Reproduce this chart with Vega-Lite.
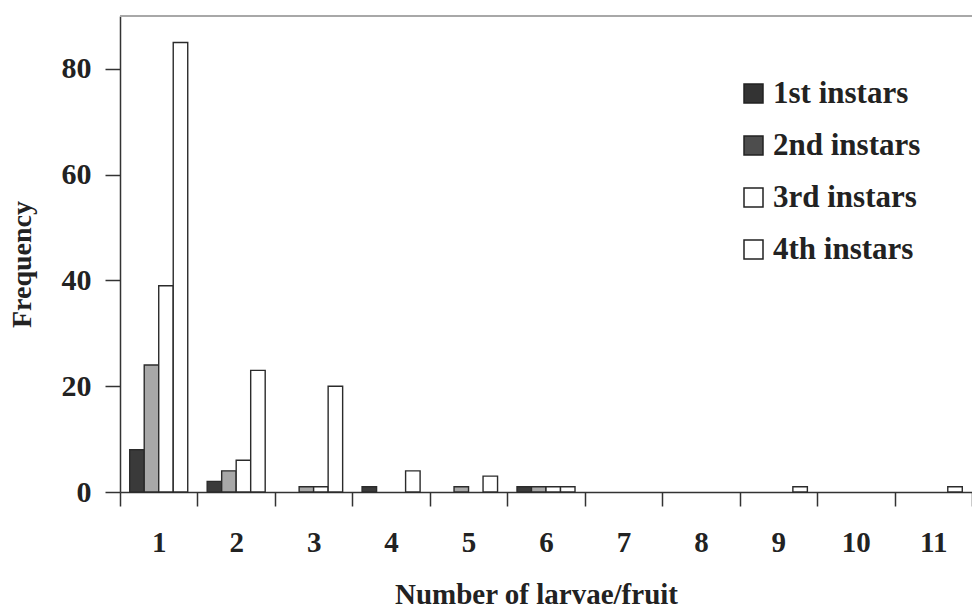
{
  "$schema": "https://vega.github.io/schema/vega-lite/v6.json",
  "width": 852,
  "height": 476,
  "autosize": {"type": "none"},
  "padding": {"left": 120, "top": 16, "right": 0, "bottom": 117},
  "background": "white",
  "config": {
    "view": {"stroke": null},
    "font": "Liberation Serif",
    "axis": {"grid": false, "labelFont": "Liberation Serif", "titleFont": "Liberation Serif"},
    "legend": {"labelFont": "Liberation Serif", "symbolSize": 361, "symbolStrokeWidth": 1.5, "symbolStrokeColor": "#222"}
  },
  "data": {
    "values": [
      {"larvae": 1, "instar": "1st instars", "frequency": 8},
      {"larvae": 1, "instar": "2nd instars", "frequency": 24},
      {"larvae": 1, "instar": "3rd instars", "frequency": 39},
      {"larvae": 1, "instar": "4th instars", "frequency": 85},
      {"larvae": 2, "instar": "1st instars", "frequency": 2},
      {"larvae": 2, "instar": "2nd instars", "frequency": 4},
      {"larvae": 2, "instar": "3rd instars", "frequency": 6},
      {"larvae": 2, "instar": "4th instars", "frequency": 23},
      {"larvae": 3, "instar": "1st instars", "frequency": 0},
      {"larvae": 3, "instar": "2nd instars", "frequency": 1},
      {"larvae": 3, "instar": "3rd instars", "frequency": 1},
      {"larvae": 3, "instar": "4th instars", "frequency": 20},
      {"larvae": 4, "instar": "1st instars", "frequency": 1},
      {"larvae": 4, "instar": "2nd instars", "frequency": 0},
      {"larvae": 4, "instar": "3rd instars", "frequency": 0},
      {"larvae": 4, "instar": "4th instars", "frequency": 4},
      {"larvae": 5, "instar": "1st instars", "frequency": 0},
      {"larvae": 5, "instar": "2nd instars", "frequency": 1},
      {"larvae": 5, "instar": "3rd instars", "frequency": 0},
      {"larvae": 5, "instar": "4th instars", "frequency": 3},
      {"larvae": 6, "instar": "1st instars", "frequency": 1},
      {"larvae": 6, "instar": "2nd instars", "frequency": 1},
      {"larvae": 6, "instar": "3rd instars", "frequency": 1},
      {"larvae": 6, "instar": "4th instars", "frequency": 1},
      {"larvae": 7, "instar": "1st instars", "frequency": 0},
      {"larvae": 7, "instar": "2nd instars", "frequency": 0},
      {"larvae": 7, "instar": "3rd instars", "frequency": 0},
      {"larvae": 7, "instar": "4th instars", "frequency": 0},
      {"larvae": 8, "instar": "1st instars", "frequency": 0},
      {"larvae": 8, "instar": "2nd instars", "frequency": 0},
      {"larvae": 8, "instar": "3rd instars", "frequency": 0},
      {"larvae": 8, "instar": "4th instars", "frequency": 0},
      {"larvae": 9, "instar": "1st instars", "frequency": 0},
      {"larvae": 9, "instar": "2nd instars", "frequency": 0},
      {"larvae": 9, "instar": "3rd instars", "frequency": 0},
      {"larvae": 9, "instar": "4th instars", "frequency": 1},
      {"larvae": 10, "instar": "1st instars", "frequency": 0},
      {"larvae": 10, "instar": "2nd instars", "frequency": 0},
      {"larvae": 10, "instar": "3rd instars", "frequency": 0},
      {"larvae": 10, "instar": "4th instars", "frequency": 0},
      {"larvae": 11, "instar": "1st instars", "frequency": 0},
      {"larvae": 11, "instar": "2nd instars", "frequency": 0},
      {"larvae": 11, "instar": "3rd instars", "frequency": 0},
      {"larvae": 11, "instar": "4th instars", "frequency": 1}
    ]
  },
  "resolve": {"scale": {"fill": "independent"}, "legend": {"fill": "independent"}},
  "layer": [
    {
      "mark": {"type": "rule", "color": "#a8a8a8", "strokeWidth": 2},
      "encoding": {"y": {"datum": 90, "type": "quantitative"}}
    },
    {
      "transform": [{"filter": "datum.frequency > 0"}],
      "mark": {"type": "bar", "stroke": "#2b2b2b", "strokeWidth": 1.4},
      "encoding": {
        "x": {
          "field": "larvae",
          "type": "ordinal",
          "scale": {"domain": [1, 2, 3, 4, 5, 6, 7, 8, 9, 10, 11], "paddingInner": 0, "paddingOuter": 0},
          "axis": {
            "title": "Number of larvae/fruit",
            "titleFontSize": 29,
            "titleFontWeight": "bold",
            "titleColor": "#222",
            "titleX": 416,
            "titleY": 102,
            "titleBaseline": "middle",
            "titleAlign": "center",
            "labelAngle": 0,
            "labelFontSize": 29,
            "labelFontWeight": "bold",
            "labelColor": "#222",
            "labelPadding": 22,
            "tickBand": "extent",
            "tickSize": 14,
            "tickColor": "#333",
            "tickWidth": 1.5,
            "domainColor": "#333",
            "domainWidth": 1.5
          }
        },
        "xOffset": {
          "field": "instar",
          "type": "nominal",
          "scale": {"domain": ["1st instars", "2nd instars", "3rd instars", "4th instars"], "paddingInner": 0, "paddingOuter": 0.67}
        },
        "y": {
          "field": "frequency",
          "type": "quantitative",
          "scale": {"domain": [0, 90], "nice": false},
          "axis": {
            "values": [0, 20, 40, 60, 80],
            "title": "Frequency",
            "titleFontSize": 28,
            "titleFontWeight": "bold",
            "titleColor": "#222",
            "titleAngle": 270,
            "titleX": -98,
            "titleY": 248,
            "titleBaseline": "middle",
            "titleAlign": "center",
            "labelFontSize": 30,
            "labelFontWeight": "bold",
            "labelColor": "#222",
            "labelPadding": 14,
            "tickSize": 15,
            "tickColor": "#333",
            "tickWidth": 1.5,
            "domainColor": "#333",
            "domainWidth": 1.5
          }
        },
        "fill": {
          "field": "instar",
          "type": "nominal",
          "scale": {
            "domain": ["1st instars", "2nd instars", "3rd instars", "4th instars"],
            "range": ["#3a3a3a", "#a8a8a8", "#ffffff", "#ffffff"]
          },
          "legend": null
        }
      }
    },
    {
      "mark": {"type": "square", "size": 0, "opacity": 1, "stroke": "#222", "strokeWidth": 1.5},
      "encoding": {
        "x": {"field": "larvae", "type": "ordinal"},
        "y": {"field": "frequency", "type": "quantitative"},
        "fill": {
          "field": "instar",
          "type": "nominal",
          "scale": {
            "domain": ["1st instars", "2nd instars", "3rd instars", "4th instars"],
            "range": ["#333333", "#4d4d4d", "#ffffff", "#ffffff"]
          },
          "legend": {
            "title": null,
            "orient": "none",
            "legendX": 618,
            "legendY": 62,
            "symbolType": "square",
            "symbolSize": 361,
            "labelFontSize": 31,
            "labelFontWeight": "bold",
            "labelColor": "#222",
            "labelOffset": 4,
            "rowPadding": 20,
            "labelLimit": 300
          }
        }
      }
    }
  ]
}
